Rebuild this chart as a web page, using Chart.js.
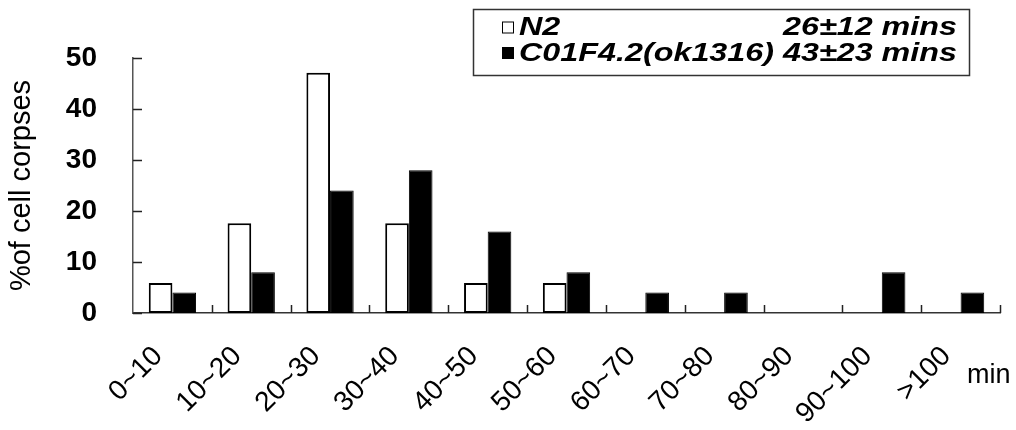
<!DOCTYPE html>
<html><head><meta charset="utf-8">
<script src="https://cdn.jsdelivr.net/npm/chart.js@4/dist/chart.umd.min.js"></script>
<style>html,body{margin:0;padding:0;background:#fff}#wrap{width:1016px;height:430px}</style>
</head><body><div id="wrap"><canvas id="c" width="1016" height="430"></canvas></div>
<script>
const categories = ['0~10','10~20','20~30','30~40','40~50','50~60','60~70','70~80','80~90','90~100','>100'];
const seriesNames = ['N2','C01F4.2(ok1316)'];
const seriesStats = ['26±12 mins','43±23 mins'];
const n2Values = [5.9,17.6,47.1,17.6,5.9,5.9,0,0,0,0,0];
const mutantValues = [4,8,24,28,16,8,4,4,0,8,4];
const yTicks = [0,10,20,30,40,50];
const yTitle = '%of cell corpses';
const xUnit = 'min';

const FONT = "'Liberation Sans', Arial, sans-serif";

const innerTicks = {
  id:'innerTicks',
  afterDatasetsDraw(chart){
    const {ctx, scales:{x,y}} = chart;
    ctx.save();
    ctx.strokeStyle = '#222'; ctx.lineWidth = 1.5;
    ctx.beginPath();
    for(let i=1;i<=categories.length;i++){
      const px = Math.round(x.getPixelForValue(i-0.5))+0.5;
      ctx.moveTo(px, y.bottom); ctx.lineTo(px, y.bottom-8);
    }
    yTicks.forEach(v=>{
      const py = Math.round(y.getPixelForValue(v))+0.5;
      ctx.moveTo(x.left, py); ctx.lineTo(x.left+9, py);
    });
    ctx.stroke();
    // x unit label
    ctx.fillStyle = '#000';
    ctx.font = "27px " + FONT;
    ctx.textAlign = 'left'; ctx.textBaseline = 'alphabetic';
    ctx.fillText(xUnit, 967, 383);
    ctx.restore();
  }
};

const boxLegend = {
  id:'boxLegend',
  afterDraw(chart){
    const ctx = chart.ctx;
    ctx.save();
    ctx.strokeStyle = '#333'; ctx.lineWidth = 1.5;
    ctx.strokeRect(473.5, 9.5, 496, 66);
    ctx.font = "italic bold 25px " + FONT;
    ctx.textBaseline = 'middle';
    const x0 = 519, x1 = 957;
    const full = seriesNames[1] + ' ' + seriesStats[1];
    const sx = (x1 - x0) / ctx.measureText(full).width;
    const rows = [27.5, 53];
    chart.data.datasets.forEach((ds,i)=>{
      const cy = rows[i];
      ctx.fillStyle = ds.backgroundColor;
      ctx.fillRect(502, cy-6, 12, 12);
      ctx.strokeStyle = '#000'; ctx.lineWidth = 1;
      ctx.strokeRect(502.5, cy-5.5, 11, 11);
      ctx.fillStyle = '#000';
      ctx.save();
      ctx.translate(x0, cy+1);
      ctx.scale(sx, 1);
      ctx.textAlign = 'left';
      ctx.fillText(ds.label, 0, 0);
      ctx.textAlign = 'right';
      ctx.fillText(seriesStats[i], (x1 - x0)/sx, 0);
      ctx.restore();
    });
    ctx.restore();
  }
};

new Chart(document.getElementById('c'), {
  type:'bar',
  data:{
    labels: categories,
    datasets:[
      {label: seriesNames[0], data: n2Values, backgroundColor:'#ffffff', borderColor:'#000', borderWidth:2, borderSkipped:false},
      {label: seriesNames[1], data: mutantValues, backgroundColor:'#000000', borderColor:'#000', borderWidth:1, borderSkipped:false}
    ]
  },
  options:{
    responsive:false, animation:false,
    layout:{padding:{top:58, right:16, left:0, bottom:0}},
    datasets:{bar:{categoryPercentage:0.6, barPercentage:1.0}},
    plugins:{legend:{display:false}, tooltip:{enabled:false}},
    scales:{
      x:{
        offset:true,
        grid:{display:false, drawTicks:false},
        border:{display:true, color:'#333', width:1.5},
        ticks:{autoSkip:false, minRotation:45, maxRotation:45, color:'#000', padding:27, labelOffset:-14,
               font:{family:FONT, size:28}},
        afterFit(s){ s.height = 117; }
      },
      y:{
        min:0, max:50,
        afterBuildTicks(s){ s.ticks = yTicks.map(v=>({value:v})); },
        grid:{display:false, drawTicks:false},
        border:{display:true, color:'#555', width:1.5},
        ticks:{color:'#000', padding:36, font:{family:FONT, size:28, weight:'bold'}},
        title:{display:true, text:yTitle, color:'#000', font:{family:FONT, size:29}, padding:{top:5,bottom:0}},
        afterFit(s){ s.width = 133; }
      }
    }
  },
  plugins:[innerTicks, boxLegend]
});
</script>
</body></html>
